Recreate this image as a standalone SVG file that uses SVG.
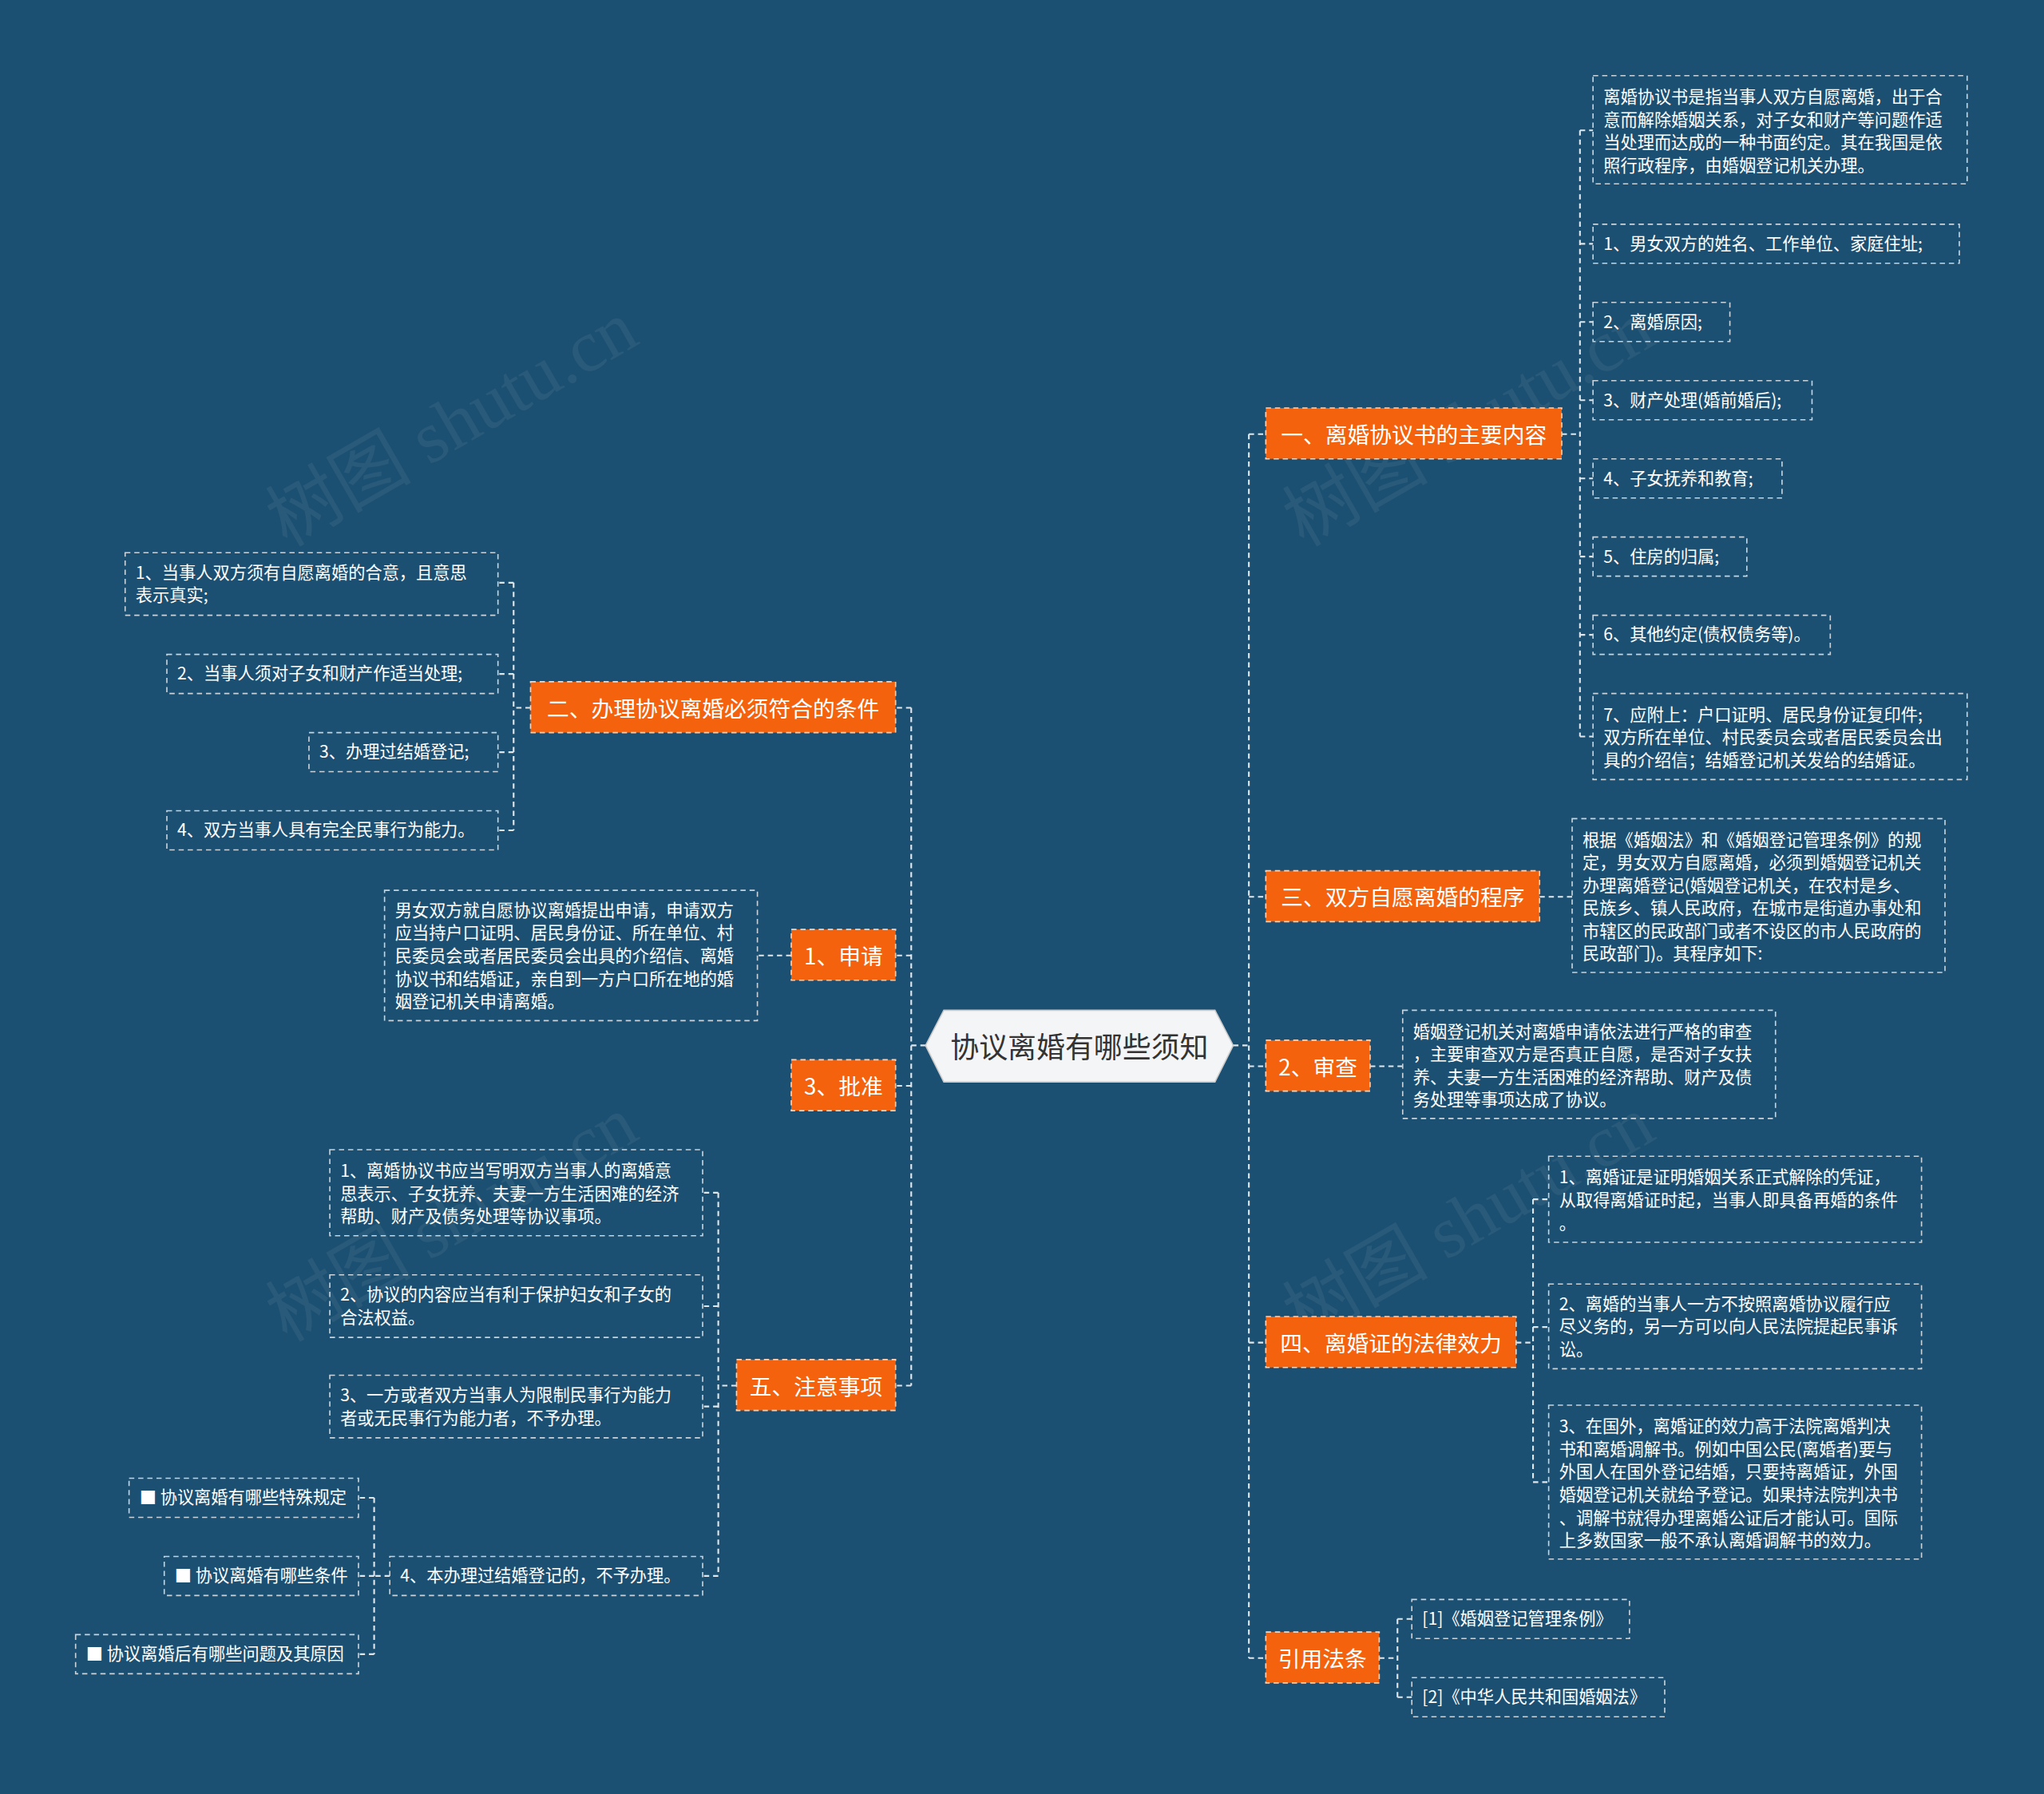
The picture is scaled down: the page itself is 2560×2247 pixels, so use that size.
<svg xmlns="http://www.w3.org/2000/svg" width="2560" height="2247" viewBox="0 0 2560 2247">
<style>
.bg{fill:#1c5072}
.br rect{fill:#f4620e;stroke:#fbd3b8;stroke-width:1;stroke-dasharray:4 3}
.br text{fill:#fff;font-family:"Noto Sans CJK SC","Liberation Sans",sans-serif;font-size:17px;text-anchor:middle;dominant-baseline:central}
.lf rect{fill:none;stroke:#c8d3dc;stroke-width:1;stroke-dasharray:4 3}
.lf text{fill:#fff;font-family:"Noto Sans CJK SC","Liberation Sans",sans-serif;font-size:13px}
.cn path{fill:none;stroke:#dfe6ec;stroke-width:1.3;stroke-dasharray:4 3}
.wm{fill:#ffffff;opacity:0.06;font-family:"Liberation Serif","Noto Sans CJK SC",serif;font-size:56px}
</style>
<rect class="bg" width="2560" height="2247"/>
<g transform="scale(1.6327)">
<g id="watermarks">
<text class="wm" transform="translate(220,420) rotate(-30)">树图 shutu.cn</text>
<text class="wm" transform="translate(1000,420) rotate(-30)">树图 shutu.cn</text>
<text class="wm" transform="translate(220,1030) rotate(-30)">树图 shutu.cn</text>
<text class="wm" transform="translate(1000,1030) rotate(-30)">树图 shutu.cn</text>
</g>
<g class="cn" id="connectors">
<path d="M946 802H958M958 333V1272M958 333H971M958 688H971M958 818H971M958 1030H971M958 1272H971"/>
<path d="M710 802H699M699 543V1063M699 543H687M699 733H687M699 833H687M699 1063H687"/>
<path d="M1198 333H1212M1212 100V565M1212 100H1222M1212 187H1222M1212 247H1222M1212 307H1222M1212 367H1222M1212 427H1222M1212 487H1222M1212 565H1222"/>
<path d="M1181 688H1206M1051 818H1076"/>
<path d="M1163 1030H1176M1176 920V1137M1176 920H1188M1176 1018H1188M1176 1137H1188"/>
<path d="M1058 1272H1072M1072 1242V1302M1072 1242H1083M1072 1302H1083"/>
<path d="M407 543H394M394 447V637M394 447H382M394 517H382M394 577H382M394 637H382"/>
<path d="M607 733H581"/>
<path d="M565 1063H551M551 915V1209M551 915H539M551 1002H539M551 1079H539M551 1209H539"/>
<path d="M299 1209H287M287 1149V1269M287 1149H275M287 1209H275M287 1269H275"/>
</g>
<g id="center">
<path d="M724 775H932L946 802L932 830H724L710 802Z" fill="#f4f5f6" stroke="#ccc"/>
<text x="828" y="802" font-family="Noto Sans CJK SC,Liberation Sans,sans-serif" font-size="22" fill="#333" text-anchor="middle" dominant-baseline="central">协议离婚有哪些须知</text>
</g>
<g class="br" id="b1"><rect x="971" y="313" width="227" height="39"/><text x="1084.5" y="332.5">一、离婚协议书的主要内容</text></g>
<g class="br" id="b3"><rect x="971" y="668" width="210" height="39"/><text x="1076" y="687.5">三、双方自愿离婚的程序</text></g>
<g class="br" id="bsc"><rect x="971" y="798" width="80" height="39"/><text x="1011" y="817.5">2、审查</text></g>
<g class="br" id="b4"><rect x="971" y="1010" width="192" height="39"/><text x="1067" y="1029.5">四、离婚证的法律效力</text></g>
<g class="br" id="bref"><rect x="971" y="1252" width="87" height="39"/><text x="1014.5" y="1271.5">引用法条</text></g>
<g class="br" id="b2"><rect x="407" y="523" width="280" height="39"/><text x="547" y="542.5">二、办理协议离婚必须符合的条件</text></g>
<g class="br" id="bsq"><rect x="607" y="713" width="80" height="39"/><text x="647" y="732.5">1、申请</text></g>
<g class="br" id="bpz"><rect x="607" y="813" width="80" height="39"/><text x="647" y="832.5">3、批准</text></g>
<g class="br" id="b5"><rect x="565" y="1043" width="122" height="39"/><text x="626" y="1062.5">五、注意事项</text></g>

<g class="lf" id="l1a"><rect x="1222" y="58" width="287" height="83"/><text x="1230" y="79">离婚协议书是指当事人双方自愿离婚，出于合</text><text x="1230" y="96.5">意而解除婚姻关系，对子女和财产等问题作适</text><text x="1230" y="114">当处理而达成的一种书面约定。其在我国是依</text><text x="1230" y="131.5">照行政程序，由婚姻登记机关办理。</text></g>
<g class="lf" id="l1b"><rect x="1222" y="172" width="281" height="30"/><text x="1230" y="191.5">1、男女双方的姓名、工作单位、家庭住址;</text></g>
<g class="lf" id="l1c"><rect x="1222" y="232" width="105" height="30"/><text x="1230" y="251.5">2、离婚原因;</text></g>
<g class="lf" id="l1d"><rect x="1222" y="292" width="168" height="30"/><text x="1230" y="311.5">3、财产处理(婚前婚后);</text></g>
<g class="lf" id="l1e"><rect x="1222" y="352" width="145" height="30"/><text x="1230" y="371.5">4、子女抚养和教育;</text></g>
<g class="lf" id="l1f"><rect x="1222" y="412" width="118" height="30"/><text x="1230" y="431.5">5、住房的归属;</text></g>
<g class="lf" id="l1g"><rect x="1222" y="472" width="182" height="30"/><text x="1230" y="491.5">6、其他约定(债权债务等)。</text></g>
<g class="lf" id="l1h"><rect x="1222" y="532" width="287" height="66"/><text x="1230" y="553">7、应附上：户口证明、居民身份证复印件;</text><text x="1230" y="570.5">双方所在单位、村民委员会或者居民委员会出</text><text x="1230" y="588">具的介绍信；结婚登记机关发给的结婚证。</text></g>
<g class="lf" id="l3"><rect x="1206" y="628" width="286" height="118"/><text x="1214" y="649">根据《婚姻法》和《婚姻登记管理条例》的规</text><text x="1214" y="666.5">定，男女双方自愿离婚，必须到婚姻登记机关</text><text x="1214" y="684">办理离婚登记(婚姻登记机关，在农村是乡、</text><text x="1214" y="701.5">民族乡、镇人民政府，在城市是街道办事处和</text><text x="1214" y="719">市辖区的民政部门或者不设区的市人民政府的</text><text x="1214" y="736.5">民政部门)。其程序如下:</text></g>
<g class="lf" id="lsc"><rect x="1076" y="775" width="286" height="83"/><text x="1084" y="796">婚姻登记机关对离婚申请依法进行严格的审查</text><text x="1084" y="813.5">，主要审查双方是否真正自愿，是否对子女扶</text><text x="1084" y="831">养、夫妻一方生活困难的经济帮助、财产及债</text><text x="1084" y="848.5">务处理等事项达成了协议。</text></g>
<g class="lf" id="l4a"><rect x="1188" y="887" width="286" height="66"/><text x="1196" y="908">1、离婚证是证明婚姻关系正式解除的凭证，</text><text x="1196" y="925.5">从取得离婚证时起，当事人即具备再婚的条件</text><text x="1196" y="943">。</text></g>
<g class="lf" id="l4b"><rect x="1188" y="985" width="286" height="65"/><text x="1196" y="1005">2、离婚的当事人一方不按照离婚协议履行应</text><text x="1196" y="1022.5">尽义务的，另一方可以向人民法院提起民事诉</text><text x="1196" y="1040">讼。</text></g>
<g class="lf" id="l4c"><rect x="1188" y="1078" width="286" height="118"/><text x="1196" y="1099">3、在国外，离婚证的效力高于法院离婚判决</text><text x="1196" y="1116.5">书和离婚调解书。例如中国公民(离婚者)要与</text><text x="1196" y="1134">外国人在国外登记结婚，只要持离婚证，外国</text><text x="1196" y="1151.5">婚姻登记机关就给予登记。如果持法院判决书</text><text x="1196" y="1169">、调解书就得办理离婚公证后才能认可。国际</text><text x="1196" y="1186.5">上多数国家一般不承认离婚调解书的效力。</text></g>
<g class="lf" id="lr1"><rect x="1083" y="1227" width="167" height="30"/><text x="1091" y="1246.5">[1]《婚姻登记管理条例》</text></g>
<g class="lf" id="lr2"><rect x="1083" y="1287" width="194" height="30"/><text x="1091" y="1306.5">[2]《中华人民共和国婚姻法》</text></g>
<g class="lf" id="l2a"><rect x="96" y="424" width="286" height="48"/><text x="104" y="444">1、当事人双方须有自愿离婚的合意，且意思</text><text x="104" y="461.5">表示真实;</text></g>
<g class="lf" id="l2b"><rect x="128" y="502" width="254" height="30"/><text x="136" y="521.5">2、当事人须对子女和财产作适当处理;</text></g>
<g class="lf" id="l2c"><rect x="237" y="562" width="145" height="30"/><text x="245" y="581.5">3、办理过结婚登记;</text></g>
<g class="lf" id="l2d"><rect x="128" y="622" width="254" height="30"/><text x="136" y="641.5">4、双方当事人具有完全民事行为能力。</text></g>
<g class="lf" id="lsq"><rect x="295" y="683" width="286" height="100"/><text x="303" y="703">男女双方就自愿协议离婚提出申请，申请双方</text><text x="303" y="720.5">应当持户口证明、居民身份证、所在单位、村</text><text x="303" y="738">民委员会或者居民委员会出具的介绍信、离婚</text><text x="303" y="755.5">协议书和结婚证，亲自到一方户口所在地的婚</text><text x="303" y="773">姻登记机关申请离婚。</text></g>
<g class="lf" id="l5a"><rect x="253" y="882" width="286" height="66"/><text x="261" y="903">1、离婚协议书应当写明双方当事人的离婚意</text><text x="261" y="920.5">思表示、子女抚养、夫妻一方生活困难的经济</text><text x="261" y="938">帮助、财产及债务处理等协议事项。</text></g>
<g class="lf" id="l5b"><rect x="253" y="978" width="286" height="48"/><text x="261" y="998">2、协议的内容应当有利于保护妇女和子女的</text><text x="261" y="1015.5">合法权益。</text></g>
<g class="lf" id="l5c"><rect x="253" y="1055" width="286" height="48"/><text x="261" y="1075">3、一方或者双方当事人为限制民事行为能力</text><text x="261" y="1092.5">者或无民事行为能力者，不予办理。</text></g>
<g class="lf" id="l5d"><rect x="299" y="1194" width="240" height="30"/><text x="307" y="1213.5">4、本办理过结婚登记的，不予办理。</text></g>
<g class="lf" id="l5e"><rect x="99" y="1134" width="176" height="30"/><text x="107" y="1153.5">■ 协议离婚有哪些特殊规定</text></g>
<g class="lf" id="l5f"><rect x="126" y="1194" width="149" height="30"/><text x="134" y="1213.5">■ 协议离婚有哪些条件</text></g>
<g class="lf" id="l5g"><rect x="58" y="1254" width="217" height="30"/><text x="66" y="1273.5">■ 协议离婚后有哪些问题及其原因</text></g>
</g>
</svg>
